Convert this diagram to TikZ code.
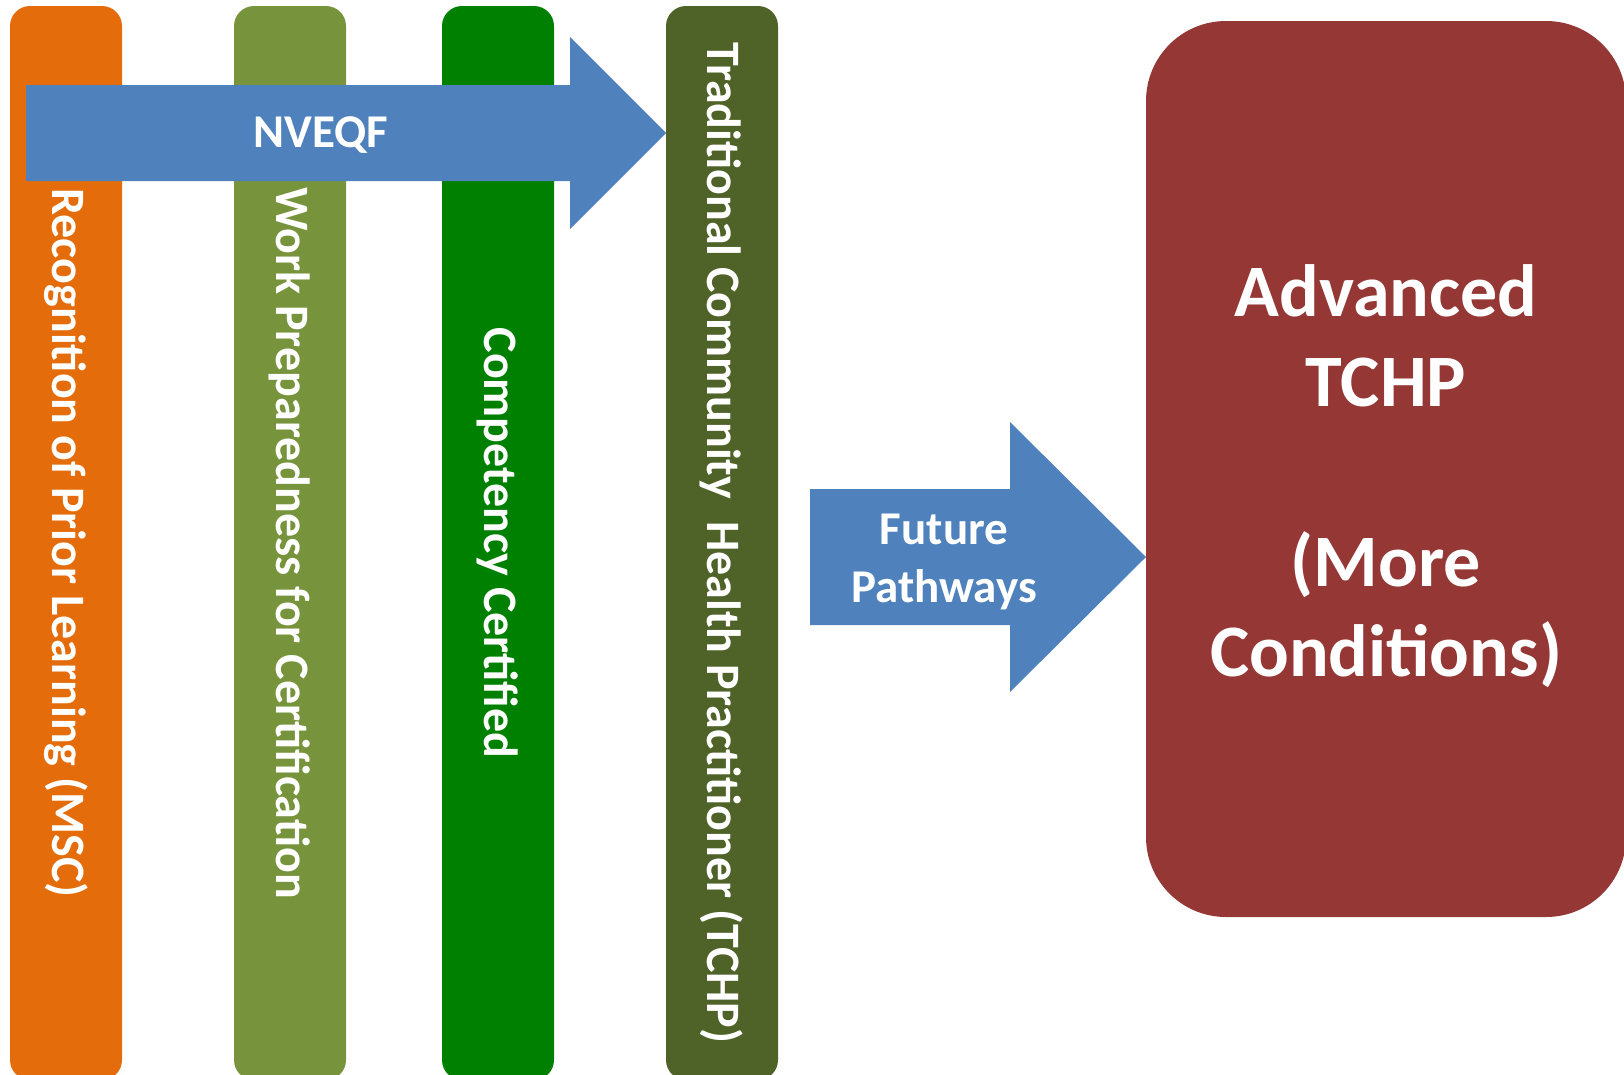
\documentclass[tikz,border=0pt]{standalone}
\usepackage{fontspec}
\setmainfont{Carlito}
\usetikzlibrary{positioning}

\definecolor{orangeC}{HTML}{E46C0A}
\definecolor{oliveC}{HTML}{77933C}
\definecolor{greenC}{HTML}{008000}
\definecolor{darkoliveC}{HTML}{4F6228}
\definecolor{arrowC}{HTML}{4F81BD}
\definecolor{redC}{HTML}{953735}

\tikzset{
  bar/.style={rotate=-90, minimum width=1074pt, minimum height=112pt,
    rounded corners=20pt, inner sep=0pt, text=white,
    font=\bfseries\fontsize{48}{56}\selectfont},
  label/.style={text=white, align=center, inner sep=0pt}
}

\begin{document}
\begin{tikzpicture}[x=1pt,y=-1pt]
  \useasboundingbox (0,0) rectangle (1624,1074);

  % the four stages
  \node[bar, fill=orangeC] (rpl) at (66,543) {Recognition of Prior Learning (MSC)};
  \node[bar, fill=oliveC] (work) at (290,543) {Work Preparedness for Certification};
  \node[bar, fill=greenC] (comp) at (498,543) {Competency Certified};
  \node[bar, fill=darkoliveC] (tchp) at (722,543) {Traditional Community~ Health Practitioner (TCHP)};

  % NVEQF arrow
  \fill[arrowC] (26,85) -- (570,85) -- (570,37) -- (666,133)
    -- (570,229) -- (570,181) -- (26,181) -- cycle;
  \node[label, font=\bfseries\fontsize{47}{55}\selectfont] (nveqf) at (321,135) {NVEQF};

  % future pathways
  \fill[arrowC] (810,489) -- (1010,489) -- (1010,422) -- (1146,557)
    -- (1010,692) -- (1010,625) -- (810,625) -- cycle;
  \node[label, font=\bfseries\fontsize{47}{58}\selectfont] (future) at (944,562) {Future\\Pathways};

  \node[label, fill=redC, rounded corners=80pt, minimum width=480pt, minimum height=896pt,
    font=\bfseries\fontsize{74}{90}\selectfont] (adv) at (1386,469) {};
  \node[label, font=\bfseries\fontsize{74}{90}\selectfont] (advtext) at (1386,476)
    {Advanced\\TCHP\\[90pt](More\\Conditions)};
\end{tikzpicture}
\end{document}
